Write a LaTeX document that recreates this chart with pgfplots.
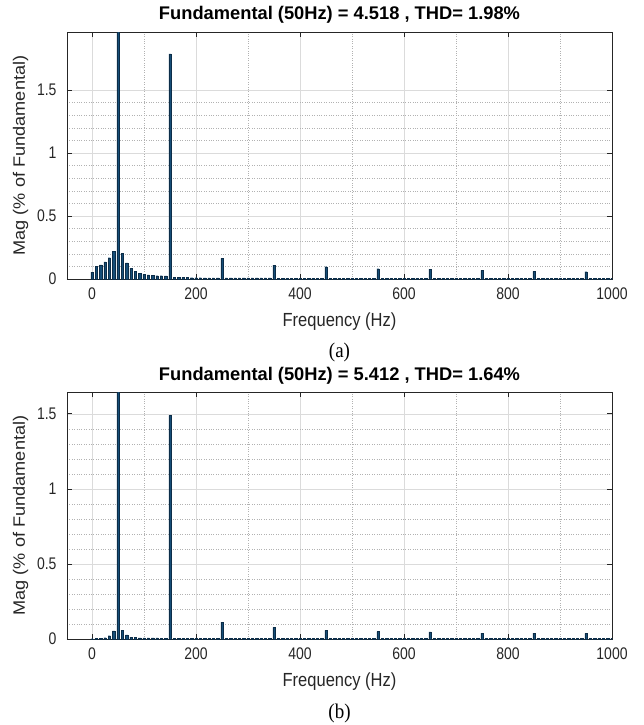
\documentclass[border=0pt]{standalone}
\usepackage{pgfplots}
\pgfplotsset{compat=1.18}
\usepackage{pgfplotstable}
\usepackage{fontspec}
\setmainfont{Liberation Sans}
\newfontfamily\serif{Liberation Serif}
\definecolor{barc}{RGB}{22,78,120}
\definecolor{baredge}{RGB}{12,45,72}
\definecolor{axc}{RGB}{38,38,38}

% f (Hz), a = panel (a) magnitude, b = panel (b) magnitude (% of fundamental)
\pgfplotstableread{
f a b
0 0.055 0.002
8.333 0.103 0.003
16.667 0.113 0.005
25 0.135 0.009
33.333 0.169 0.022
41.667 0.220 0.055
50 100 100
58.333 0.204 0.057
66.667 0.127 0.027
75 0.087 0.012
83.333 0.061 0.010
91.667 0.045 0.008
100 0.037 0.008
108.333 0.032 0.007
116.667 0.029 0.007
125 0.026 0.007
133.333 0.026 0.006
141.667 0.025 0.006
150 1.786 1.490
158.333 0.012 0.005
166.667 0.012 0.005
175 0.011 0.005
183.333 0.011 0.005
191.667 0.010 0.005
200 0.010 0.005
208.333 0.010 0.005
216.667 0.009 0.005
225 0.009 0.005
233.333 0.009 0.005
241.667 0.009 0.005
250 0.163 0.113
258.333 0.008 0.005
266.667 0.008 0.005
275 0.008 0.005
283.333 0.008 0.005
291.667 0.008 0.005
300 0.008 0.005
308.333 0.008 0.005
316.667 0.008 0.005
325 0.008 0.005
333.333 0.008 0.005
341.667 0.008 0.005
350 0.110 0.077
358.333 0.007 0.005
366.667 0.007 0.005
375 0.007 0.005
383.333 0.007 0.005
391.667 0.007 0.005
400 0.007 0.005
408.333 0.007 0.005
416.667 0.007 0.005
425 0.007 0.005
433.333 0.007 0.005
441.667 0.007 0.005
450 0.098 0.057
458.333 0.007 0.004
466.667 0.007 0.004
475 0.007 0.004
483.333 0.007 0.004
491.667 0.007 0.004
500 0.007 0.004
508.333 0.007 0.004
516.667 0.007 0.004
525 0.007 0.004
533.333 0.007 0.004
541.667 0.007 0.004
550 0.082 0.050
558.333 0.006 0.004
566.667 0.006 0.004
575 0.006 0.004
583.333 0.006 0.004
591.667 0.006 0.004
600 0.006 0.004
608.333 0.006 0.004
616.667 0.006 0.004
625 0.006 0.004
633.333 0.006 0.004
641.667 0.006 0.004
650 0.078 0.047
658.333 0.006 0.004
666.667 0.006 0.004
675 0.006 0.004
683.333 0.006 0.004
691.667 0.006 0.004
700 0.006 0.004
708.333 0.006 0.004
716.667 0.006 0.004
725 0.006 0.004
733.333 0.006 0.004
741.667 0.006 0.004
750 0.068 0.040
758.333 0.006 0.004
766.667 0.006 0.004
775 0.006 0.004
783.333 0.006 0.004
791.667 0.006 0.004
800 0.006 0.004
808.333 0.006 0.004
816.667 0.006 0.004
825 0.006 0.004
833.333 0.006 0.004
841.667 0.006 0.004
850 0.060 0.040
858.333 0.006 0.004
866.667 0.006 0.004
875 0.006 0.004
883.333 0.006 0.004
891.667 0.006 0.004
900 0.006 0.004
908.333 0.006 0.004
916.667 0.006 0.004
925 0.006 0.004
933.333 0.006 0.004
941.667 0.006 0.004
950 0.058 0.037
958.333 0.006 0.004
966.667 0.006 0.004
975 0.006 0.004
983.333 0.006 0.004
991.667 0.006 0.004
1000 0.006 0.004
}\fft

\pgfplotsset{
 fftstyle/.style={
  scale only axis, width=545pt, height=247pt,
  xmin=-48, xmax=1000, ymin=0,
  xtick={0,200,...,1000}, minor x tick num=1,
  ytick={0,0.5,1,1.5}, minor y tick num=4,
  grid=both,
  major grid style={solid, color=black!14, line width=0.5pt},
  minor grid style={dotted, color=black!30, line width=0.5pt},
  tick align=inside, tick pos=both, major tick length=5pt, minor tick length=0pt,
  axis line style={axc, line width=0.6pt},
  every tick/.style={axc, line width=0.6pt},
  /pgf/number format/assume math mode=true,
  /pgf/number format/1000 sep={},
  xticklabel={\scalebox{1}[1.2]{\pgfmathprintnumber{\tick}}},
  yticklabel={\scalebox{1}[1.2]{\pgfmathprintnumber{\tick}}},
  tick label style={font=\fontsize{14}{16}\selectfont, text=black!85},
  xticklabel style={yshift=-5pt},
  yticklabel style={xshift=-7pt},
  xlabel={\scalebox{1}[1.15]{Frequency (Hz)}},
  ylabel={\scalebox{1.1}[1]{Mag (\% of Fundamental)}},
  label style={font=\fontsize{16.5}{18}\selectfont, text=black!85},
  xlabel style={at={(axis description cs:0.5,-0.172)}, anchor=center},
  ylabel style={at={(axis description cs:-0.085,0.5)}, anchor=center},
  title style={font=\bfseries\fontsize{18.3}{20}\selectfont, at={(0.5,1)}, anchor=base, yshift=6pt},
 }
}

\begin{document}
\begin{tikzpicture}
\path[use as bounding box] (0,0) rectangle (644pt,-725pt);
\begin{axis}[fftstyle, at={(67pt,-32pt)}, anchor=north west, ymax=1.96,
  title={Fundamental (50Hz) = 4.518 , THD= 1.98\%}]
\addplot[ybar, bar width=4.5, fill=barc, draw=baredge, line width=0.3pt] table[x=f, y=a]{\fft};
\end{axis}
\begin{axis}[fftstyle, at={(67pt,-392pt)}, anchor=north west, ymax=1.645,
  title={Fundamental (50Hz) = 5.412 , THD= 1.64\%}]
\addplot[ybar, bar width=4.5, fill=barc, draw=baredge, line width=0.3pt] table[x=f, y=b]{\fft};
\end{axis}
\node[font=\serif\fontsize{19}{21}\selectfont] at (339.5pt,-352pt) {\scalebox{1}[1.1]{(a)}};
\node[font=\serif\fontsize{19}{21}\selectfont] at (339.5pt,-713pt) {\scalebox{1}[1.1]{(b)}};
\end{tikzpicture}
\end{document}
